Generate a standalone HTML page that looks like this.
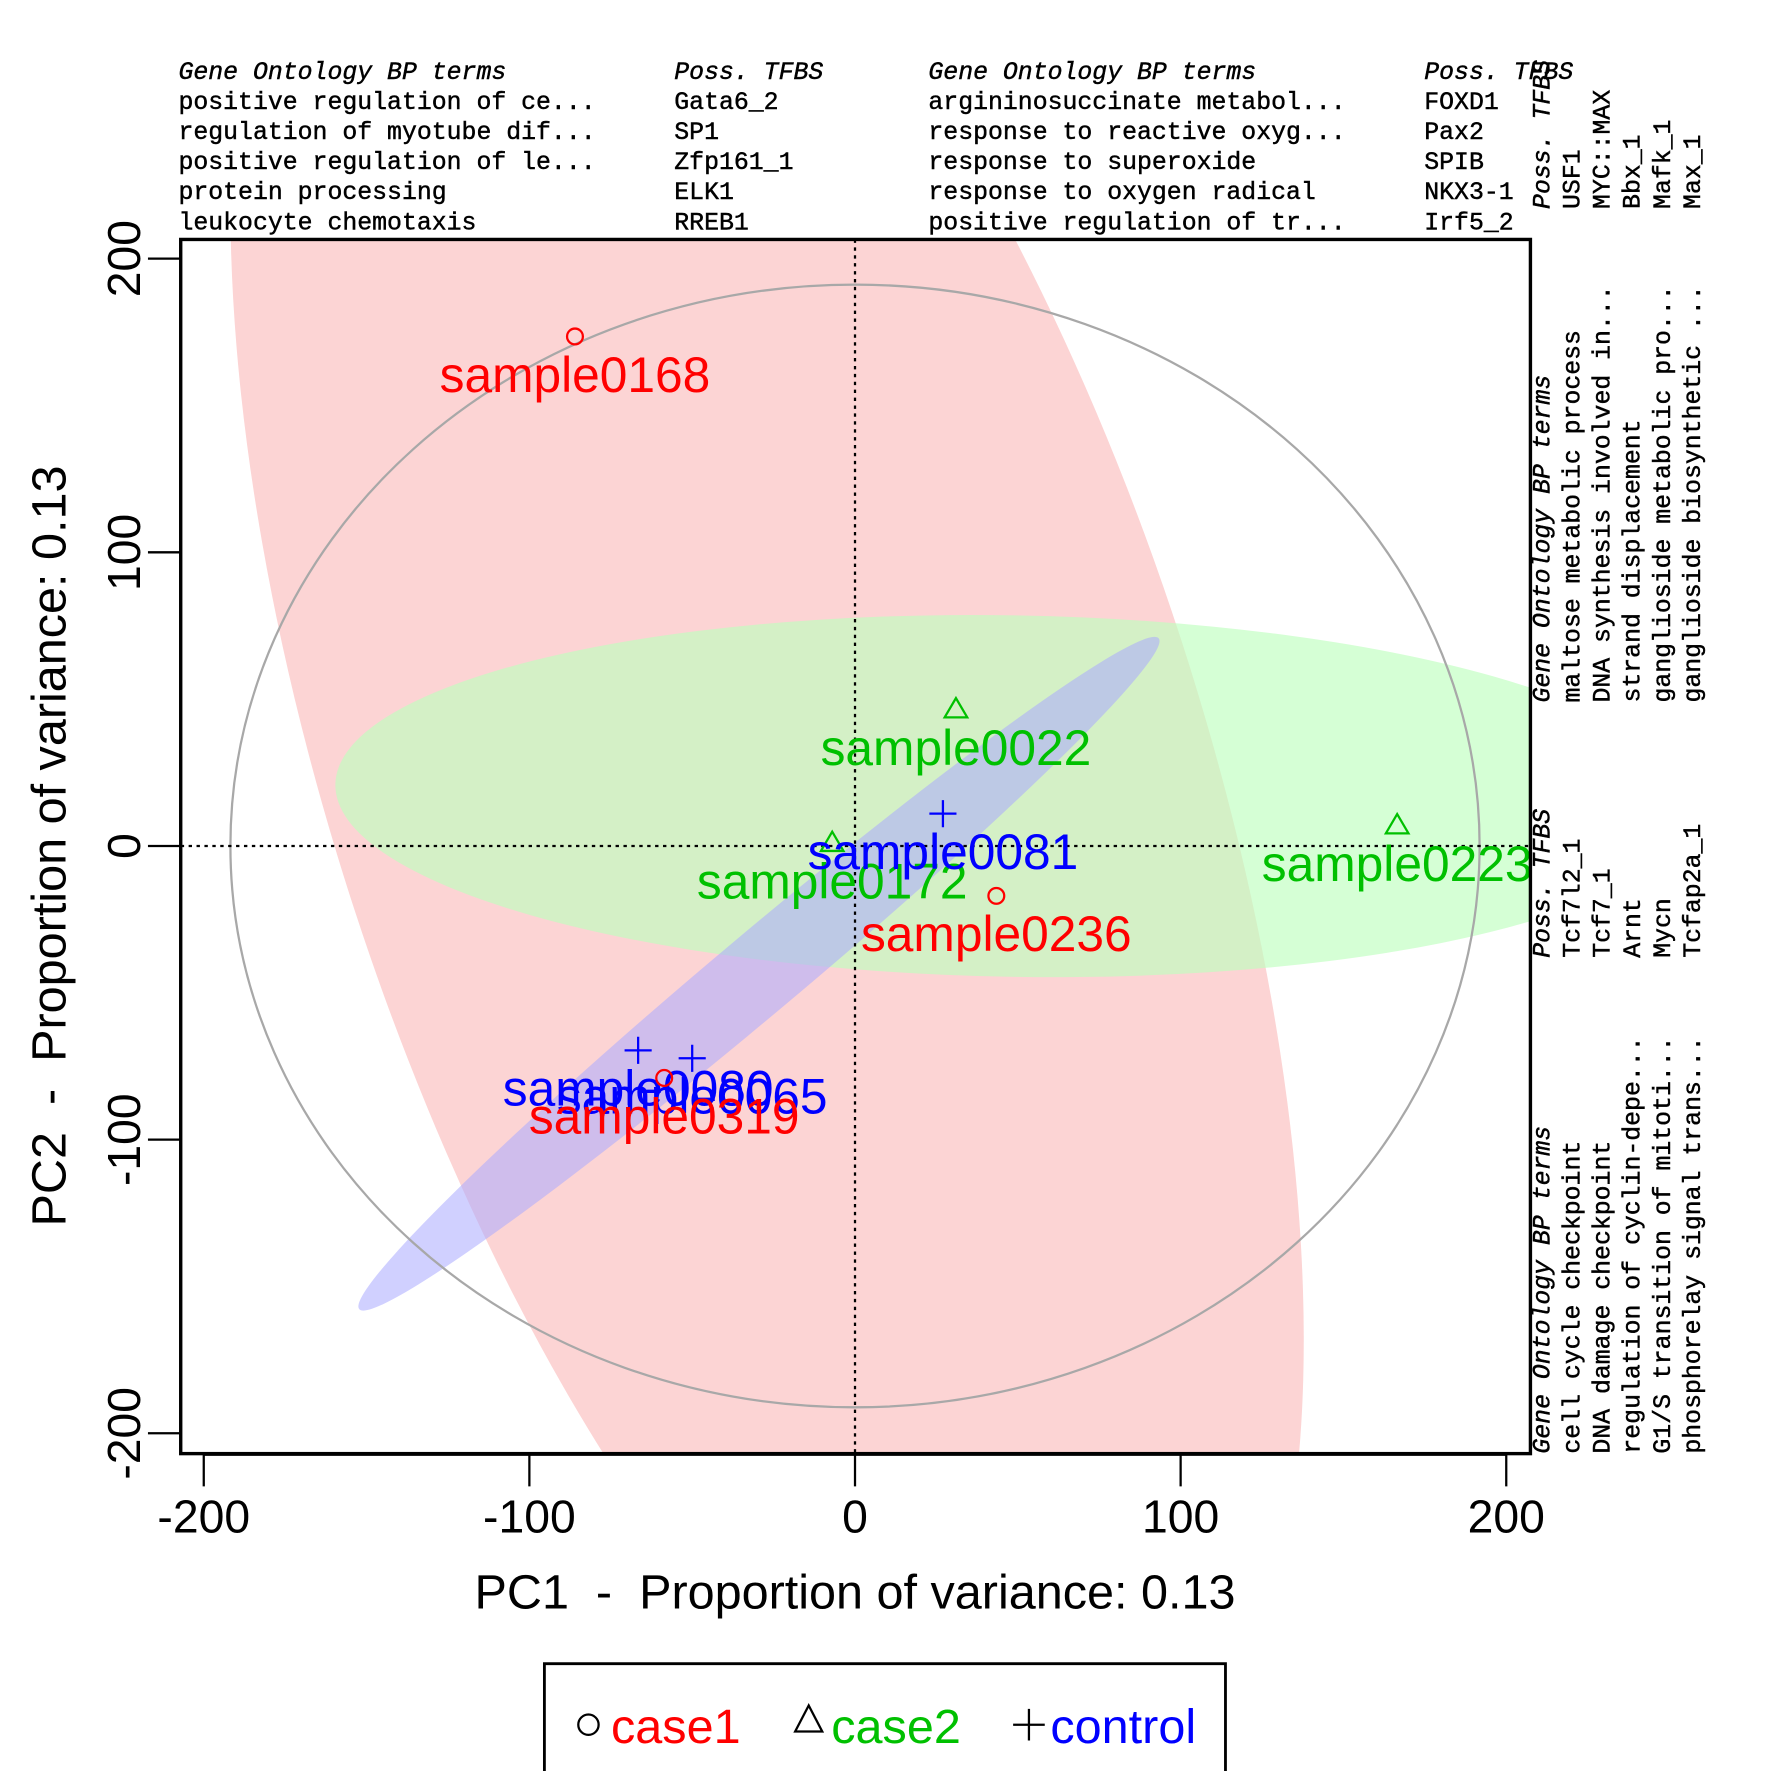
<!DOCTYPE html>
<html><head><meta charset="utf-8"><style>
html,body{margin:0;padding:0;background:#fff;overflow:hidden;width:1771px;height:1771px}
svg{display:block}
.mono{font-family:"Liberation Mono",monospace;font-size:22px;font-weight:normal;stroke:#000;stroke-width:0.4}
.it{font-style:italic}
text{white-space:pre}
</style></head><body>
<svg id="chart" width="1771" height="1771" viewBox="0 0 1568 1568" xmlns="http://www.w3.org/2000/svg">
<defs><clipPath id="pc"><rect x="160" y="212" width="1195" height="1075"/></clipPath></defs>
<g id="ellipses" clip-path="url(#pc)"></g>
<g id="marks"></g>
<rect x="160" y="212" width="1195" height="1075" fill="none" stroke="#000" stroke-width="3"/>
<g id="axes"></g>
<g id="tables" class="mono"></g>
<g>
<path d="M482 1568 V1473 H1085 V1568" fill="#fff" stroke="#000" stroke-width="2.5"/>
<circle cx="521" cy="1527" r="9" fill="none" stroke="#000" stroke-width="2"/>
<text x="541" y="1543" font-family="Liberation Sans,sans-serif" font-size="43" fill="#ff0000">case1</text>
<path d="M716 1510 L704 1533 L728 1533 Z" fill="none" stroke="#000" stroke-width="2"/>
<text x="736" y="1543" font-family="Liberation Sans,sans-serif" font-size="43" fill="#00c000">case2</text>
<path d="M897 1527 H925 M911 1513 V1541" stroke="#000" stroke-width="2"/>
<text x="930" y="1543" font-family="Liberation Sans,sans-serif" font-size="43" fill="#0000ff">control</text>
</g>
</svg>
<script>
const sampleNames=["sample0168","sample0022","sample0223","sample0172","sample0081","sample0236","sample0080","sample0065","sample0319"];
const groups=["case1","case2","case2","case2","control","case1","control","control","case1"];
const pc1=[-86,31,166.5,-7,27,43.4,-66.6,-50,-58.6];
const pc2=[173.5,46.5,7,1,11,-17,-69.6,-72.3,-79];
const xTicks=[-200,-100,0,100,200];
const yTicks=[-200,-100,0,100,200];
const groupColors={case1:"#ff0000",case2:"#00c000",control:"#0000ff"};
const ellGroups=["case1","case2","control"];
const ellCx=[-27,48.5,-29.5];
const ellCy=[25,17,-43.5];
const ellRx=[385,600,462];
const ellRy=[980,160,36];
const ellRot=[-18,1,-40];
const ellFill=["#fcd4d4","rgba(190,255,190,0.65)","rgba(170,170,255,0.55)"];

const NS="http://www.w3.org/2000/svg";
const X=v=>757+2.883*v, Y=v=>749-2.6*v;
function mk(t,a,p){const e=document.createElementNS(NS,t);for(const k in a)e.setAttribute(k,a[k]);(p||document.getElementById('chart')).appendChild(e);return e;}
const eg=document.getElementById('ellipses');
for(let i=0;i<ellGroups.length;i++){
 const cx=X(ellCx[i]),cy=Y(ellCy[i]);
 const e=mk('ellipse',{cx:cx,cy:cy,rx:ellRx[i],ry:ellRy[i],fill:ellFill[i],transform:`rotate(${ellRot[i]} ${cx} ${cy})`},eg);
 
 
}
const gc=mk('ellipse',{cx:X(0),cy:Y(0),rx:553,ry:497,fill:'none',stroke:'#a8a8a8','stroke-width':2},eg);


const l1=mk('line',{x1:X(0),x2:X(0),y1:212,y2:1287,stroke:'#000','stroke-width':2,'stroke-dasharray':'3,4'},eg);


const l2=mk('line',{x1:160,x2:1355,y1:Y(0),y2:Y(0),stroke:'#000','stroke-width':2,'stroke-dasharray':'3,4'},eg);


const mg=document.getElementById('marks');
for(let i=0;i<sampleNames.length;i++){
 const x=X(pc1[i]),y=Y(pc2[i]),c=groupColors[groups[i]];let m;
 if(groups[i]=='case1')m=mk('circle',{cx:x,cy:y,r:7,fill:'none',stroke:c,'stroke-width':2},mg);
 else if(groups[i]=='case2')m=mk('path',{d:`M${x} ${y-10}L${x-10} ${y+7}L${x+10} ${y+7}Z`,fill:'none',stroke:c,'stroke-width':2},mg);
 else m=mk('path',{d:`M${x-12} ${y}H${x+12}M${x} ${y-12}V${y+12}`,stroke:c,'stroke-width':2},mg);
 
 
 const t=mk('text',{x:x,y:y+49,'text-anchor':'middle','font-family':'Liberation Sans,sans-serif','font-size':44,fill:c},mg);
 t.textContent=sampleNames[i];
 
 
}
const ag=document.getElementById('axes');
const xa=mk('path',{d:`M${X(-200)} 1288H${X(200)}`,stroke:'#000','stroke-width':2},ag);


xTicks.forEach(v=>{
 const tk=mk('line',{x1:X(v),x2:X(v),y1:1287,y2:1316,stroke:'#000','stroke-width':2},ag);
 
 
 const t=mk('text',{x:X(v),y:1357,'text-anchor':'middle','font-family':'Liberation Sans,sans-serif','font-size':41},ag);
 t.textContent=String(v);
 
 
});
yTicks.forEach(v=>{
 const tk=mk('line',{x1:131,x2:160,y1:Y(v),y2:Y(v),stroke:'#000','stroke-width':2},ag);
 
 
 const t=mk('text',{x:124,y:Y(v),'text-anchor':'middle','font-family':'Liberation Sans,sans-serif','font-size':41,transform:`rotate(-90 124 ${Y(v)})`},ag);
 t.textContent=String(v);
 
 
});
const xt=mk('text',{x:757,y:1424,'text-anchor':'middle','font-family':'Liberation Sans,sans-serif','font-size':43},ag);
xt.textContent='PC1  -  Proportion of variance: 0.13';


const yt=mk('text',{x:58,y:749,'text-anchor':'middle','font-family':'Liberation Sans,sans-serif','font-size':43,transform:'rotate(-90 58 749)'},ag);
yt.textContent='PC2  -  Proportion of variance: 0.13';


const tg=document.getElementById('tables');
function col(x,y0,rows,rot,name){
 rows.forEach((s,i)=>{
  let t;
  if(!rot) t=mk('text',{x:x,y:y0+i*26.6},tg);
  else {const xx=x+i*26.6; t=mk('text',{x:xx,y:y0,transform:`rotate(-90 ${xx} ${y0})`},tg);}
  t.textContent=s; if(i==0)t.setAttribute('class','it');
  
  
 });
}
col(158,70,["Gene Ontology BP terms","positive regulation of ce...","regulation of myotube dif...","positive regulation of le...","protein processing","leukocyte chemotaxis"],false,'top-go-1');
col(597,70,["Poss. TFBS","Gata6_2","SP1","Zfp161_1","ELK1","RREB1"],false,'top-tfbs-1');
col(822,70,["Gene Ontology BP terms","argininosuccinate metabol...","response to reactive oxyg...","response to superoxide","response to oxygen radical","positive regulation of tr..."],false,'top-go-2');
col(1261,70,["Poss. TFBS","FOXD1","Pax2","SPIB","NKX3-1","Irf5_2"],false,'top-tfbs-2');
col(1372,185,["Poss. TFBS","USF1","MYC::MAX","Bbx_1","Mafk_1","Max_1"],true,'right-tfbs-1');
col(1372,622,["Gene Ontology BP terms","maltose metabolic process","DNA synthesis involved in...","strand displacement","ganglioside metabolic pro...","ganglioside biosynthetic ..."],true,'right-go-1');
col(1372,848,["Poss. TFBS","Tcf7l2_1","Tcf7_1","Arnt","Mycn","Tcfap2a_1"],true,'right-tfbs-2');
col(1372,1287,["Gene Ontology BP terms","cell cycle checkpoint","DNA damage checkpoint","regulation of cyclin-depe...","G1/S transition of mitoti...","phosphorelay signal trans..."],true,'right-go-2');
</script>
</body></html>
